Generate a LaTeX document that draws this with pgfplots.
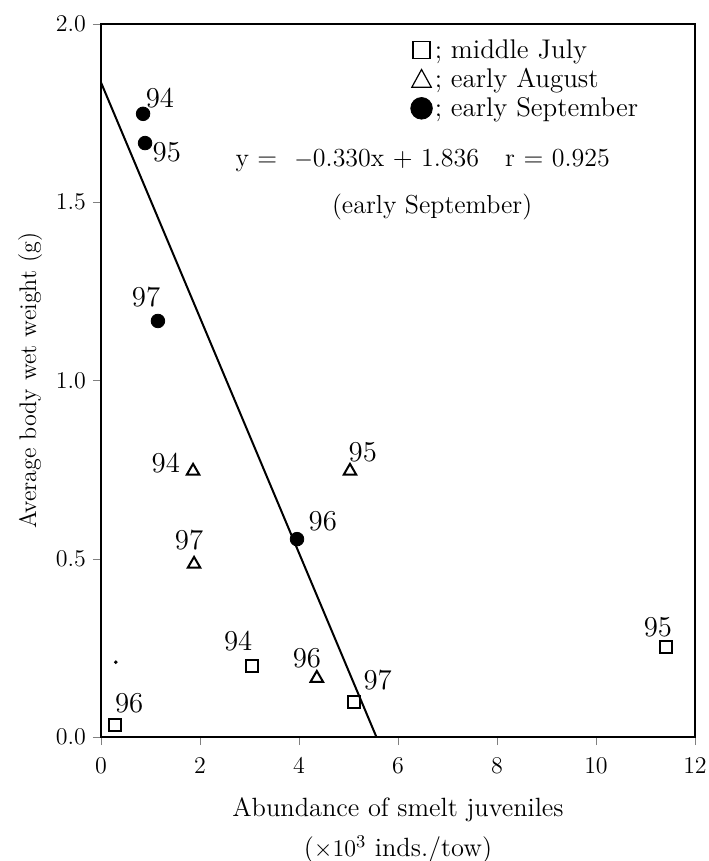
\documentclass[border=0pt]{standalone}
\usepackage{pgfplots}
\pgfplotsset{compat=1.18}

\begin{document}
\begin{tikzpicture}
\useasboundingbox (-50.5pt,-62pt) rectangle (303.5pt,368.5pt);
\begin{axis}[
  scale only axis,
  width=297pt, height=356.5pt,
  xmin=0, xmax=12, ymin=0, ymax=2,
  xtick={0,2,...,12}, ytick={0,0.5,...,2},
  yticklabel style={/pgf/number format/.cd,fixed,fixed zerofill,precision=1},
  xticklabel style={yshift=-3pt},
  tick align=outside, major tick length=4pt,
  xtick pos=bottom, ytick pos=left,
  tick label style={font=\large},
  axis line style={line width=0.7pt},
  xlabel={\fontsize{13.2}{15}\selectfont\begin{tabular}{c}Abundance of smelt juveniles\\[5pt]($\times10^{3}$ inds./tow)\end{tabular}},
  xlabel style={yshift=-4pt},
  ylabel={\large Average body wet weight (g)},
  legend style={draw=none, fill=none, font=\fontsize{13.5}{15}\selectfont, at={(axis cs:6.12,1.975)}, anchor=north west,
    row sep=1.5pt, nodes={inner sep=1pt}},
  legend cell align=left,
  clip=false,
]
% regression line, early September
\addplot[black, line width=1pt, forget plot] coordinates {(0,1.836) (5.564,0)};

% middle July
\addplot[only marks, mark=square, mark size=3.1pt, mark options={line width=1pt}, forget plot]
  coordinates {(0.28,0.034) (3.05,0.199) (5.11,0.098) (11.41,0.252)};
% early August
\addplot[only marks, mark=triangle, mark size=3.6pt, mark options={line width=1pt}, forget plot]
  coordinates {(1.86,0.746) (1.88,0.485) (5.03,0.746) (4.36,0.165)};
% early September
\addplot[only marks, mark=*, mark size=3.4pt, black, forget plot]
  coordinates {(0.85,1.748) (0.89,1.666) (1.15,1.167) (3.96,0.555)};
% stray dot
\addplot[only marks, mark=*, mark size=0.7pt, black, forget plot] coordinates {(0.30,0.21)};

\addlegendimage{legend image code/.code={\draw[line width=0.6pt] (0.03cm,-0.15cm) rectangle (0.33cm,0.15cm);}}
\addlegendentry{; middle July}
\addlegendimage{legend image code/.code={\draw[line width=0.6pt] (0.01cm,-0.14cm) -- (0.35cm,-0.14cm) -- (0.18cm,0.17cm) -- cycle;}}
\addlegendentry{; early August}
\addlegendimage{legend image code/.code={\fill (0.18cm,0) circle (0.19cm);}}
\addlegendentry{; early September}

% year labels
\node[font=\Large] at (axis cs:1.19,1.792) {94};
\node[font=\Large] at (axis cs:1.33,1.641) {95};
\node[font=\Large] at (axis cs:0.91,1.234) {97};
\node[font=\Large] at (axis cs:4.48,0.606) {96};
\node[font=\Large] at (axis cs:1.31,0.768) {94};
\node[font=\Large] at (axis cs:1.78,0.553) {97};
\node[font=\Large] at (axis cs:5.29,0.799) {95};
\node[font=\Large] at (axis cs:4.16,0.222) {96};
\node[font=\Large] at (axis cs:0.57,0.095) {96};
\node[font=\Large] at (axis cs:2.77,0.269) {94};
\node[font=\Large] at (axis cs:5.59,0.160) {97};
\node[font=\Large] at (axis cs:11.25,0.308) {95};

% equation
\node[font=\fontsize{13}{15}\selectfont] at (axis cs:6.5,1.617) {y = \ $-$0.330x + 1.836\quad r = 0.925};
\node[font=\fontsize{13}{15}\selectfont] at (axis cs:6.69,1.488) {(early September)};
\end{axis}
\end{tikzpicture}
\end{document}
